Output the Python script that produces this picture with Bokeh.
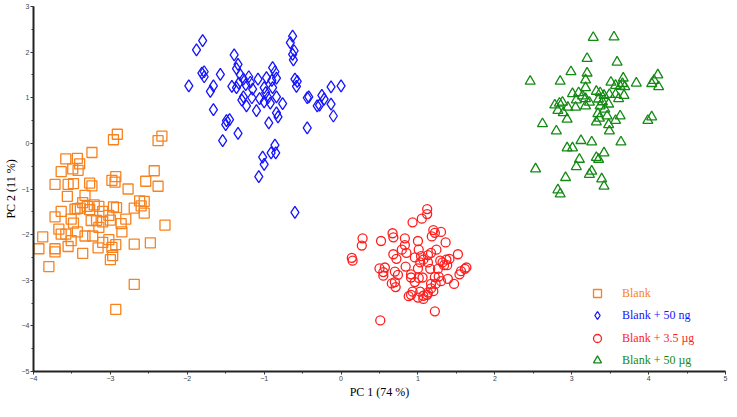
from bokeh.plotting import figure
from bokeh.models import Range1d, SingleIntervalTicker, Legend, LegendItem
from bokeh.embed import file_html
from bokeh.resources import INLINE

# ---- data ----
blank_x = [-2.91, -2.96, -2.33, -2.38, -3.24, -3.58, -3.43, -3.40, -3.49, -3.42,
           -3.64, -2.43, -2.93, -2.98, -2.94, -3.72, -3.55, -3.48, -3.27, -3.24,
           -2.54, -2.38, -2.77, -3.56, -3.33, -3.36, -3.43, -3.46, -3.39, -3.30,
           -3.21, -3.15, -3.27, -3.10, -2.96, -2.92, -2.62, -2.56, -2.60, -2.69,
           -2.56, -3.64, -3.72, -3.51, -3.48, -3.25, -3.18, -3.10, -3.02, -3.00,
           -2.80, -2.86, -3.15, -3.67, -2.85, -2.29, -3.64, -3.58, -3.43, -3.33,
           -3.23, -3.88, -3.51, -3.55, -3.10, -3.02, -2.93, -2.98, -3.16, -2.69,
           -2.48, -3.93, -3.72, -3.72, -3.36, -2.97, -3.00, -3.80, -2.69, -2.93]
blank_y = [0.20, 0.08, 0.16, 0.06, -0.20, -0.34, -0.33, -0.45, -0.56, -0.59,
           -0.62, -0.60, -0.73, -0.81, -0.85, -0.90, -0.90, -0.88, -0.87, -0.93,
           -0.83, -0.94, -1.00, -1.16, -1.14, -1.30, -1.43, -1.44, -1.42, -1.38,
           -1.35, -1.38, -1.45, -1.49, -1.39, -1.41, -1.26, -1.27, -1.37, -1.42,
           -1.53, -1.49, -1.61, -1.66, -1.75, -1.69, -1.69, -1.72, -1.58, -1.68,
           -1.66, -1.76, -1.84, -1.88, -1.94, -1.79, -1.99, -1.99, -1.94, -2.03,
           -2.03, -2.05, -2.13, -2.26, -2.17, -2.11, -2.22, -2.28, -2.29, -2.21,
           -2.18, -2.31, -2.31, -2.38, -2.41, -2.46, -2.55, -2.70, -3.09, -3.64]

ng50_x = [-0.63, -0.66, -1.80, -1.88, -0.61, -0.63, -0.62, -1.39, -1.34, -1.36,
          -1.81, -1.78, -1.78, -1.57, -1.98, -1.66, -1.70, -0.89, -0.86, -1.31,
          -1.20, -1.27, -1.33, -1.42, -1.36, -1.24, -1.18, -1.08, -0.97, -0.84,
          -0.90, -0.60, -0.57, -0.58, -0.13, 0.00, -1.15, -1.00, -0.89, -1.27,
          -1.29, -1.16, -1.23, -1.10, -1.06, -0.98, -1.00, -0.95, -0.92, -0.84,
          -0.76, -0.44, -0.42, -0.25, -0.22, -0.28, -0.31, -0.13, -0.10, -0.84,
          -0.82, -0.94, -1.66, -1.49, -1.45, -1.50, -1.34, -1.54, -0.44, -0.86,
          -0.85, -0.91, -1.02, -1.00, -1.07, -0.60]
ng50_y = [2.35, 2.21, 2.25, 2.05, 2.03, 1.95, 1.83, 1.94, 1.73, 1.64,
          1.54, 1.57, 1.46, 1.51, 1.26, 1.26, 1.14, 1.66, 1.57, 1.50,
          1.46, 1.41, 1.32, 1.25, 1.22, 1.29, 1.34, 1.41, 1.44, 1.43,
          1.38, 1.41, 1.36, 1.25, 1.24, 1.26, 1.19, 1.22, 1.22, 1.02,
          0.95, 1.00, 0.82, 0.72, 0.98, 1.11, 0.91, 1.00, 0.88, 1.02,
          0.87, 1.00, 1.02, 1.05, 0.97, 0.84, 0.82, 0.86, 0.60, 0.67,
          0.58, 0.45, 0.74, 0.50, 0.52, 0.41, 0.22, 0.06, 0.34, -0.04,
          -0.21, -0.21, -0.30, -0.46, -0.73, -1.51]

ug35_x = [1.12, 1.12, 1.05, 0.93, 0.28, 0.27, 0.52, 0.67, 0.68, 0.83,
          0.83, 1.00, 1.20, 1.22, 1.30, 1.18, 1.36, 0.14, 0.15, 0.79,
          0.85, 0.68, 0.72, 1.01, 0.96, 1.04, 1.07, 1.13, 1.17, 1.24,
          1.03, 1.13, 1.16, 0.84, 1.00, 1.29, 1.32, 1.37, 1.41, 1.52,
          1.34, 1.38, 1.26, 0.50, 0.57, 0.55, 0.55, 0.70, 0.74, 0.91,
          0.91, 1.01, 1.06, 0.96, 1.22, 1.27, 1.39, 1.47, 1.54, 1.56,
          1.61, 1.63, 0.70, 0.66, 0.71, 1.17, 1.23, 1.30, 1.17, 1.20,
          1.13, 0.93, 1.03, 0.91, 0.88, 1.00, 1.07, 1.12, 1.07, 1.22, 0.51]
ug35_y = [-1.44, -1.55, -1.65, -1.73, -2.08, -2.24, -2.14, -1.97, -2.06, -2.08,
          -2.23, -2.14, -1.90, -1.96, -1.94, -2.04, -2.17, -2.51, -2.57, -2.33,
          -2.40, -2.43, -2.53, -2.33, -2.50, -2.47, -2.55, -2.45, -2.40, -2.33,
          -2.61, -2.61, -2.75, -2.70, -2.74, -2.57, -2.61, -2.55, -2.53, -2.43,
          -2.67, -2.67, -2.75, -2.74, -2.72, -2.82, -2.90, -2.81, -2.88, -2.87,
          -2.94, -2.95, -2.94, -3.04, -2.93, -2.92, -2.97, -3.08, -2.87, -2.80,
          -2.75, -2.72, -3.04, -3.07, -3.15, -3.08, -3.08, -3.02, -3.18, -3.24,
          -3.27, -3.25, -3.25, -3.32, -3.35, -3.38, -3.34, -3.32, -3.41, -3.68, -3.88]

ug50_x = [3.28, 3.55, 3.20, 3.59, 2.99, 2.46, 2.85, 3.20, 3.18, 3.18,
          4.12, 4.07, 4.04, 4.13, 3.84, 3.51, 3.57, 3.67, 3.66, 3.63,
          3.69, 3.01, 3.09, 3.14, 3.06, 3.18, 3.23, 3.18, 3.32, 3.37,
          3.42, 3.49, 3.57, 3.61, 3.68, 3.35, 3.40, 3.48, 3.37, 3.43,
          2.78, 2.84, 2.88, 2.82, 2.89, 2.95, 2.94, 3.05, 3.34, 3.32,
          3.36, 3.46, 3.48, 3.49, 3.57, 3.63, 3.99, 4.04, 2.62, 2.80,
          3.12, 3.26, 3.64, 2.94, 3.01, 3.42, 3.32, 3.35, 3.10, 3.06,
          2.53, 3.26, 3.23, 2.92, 3.39, 3.42, 2.82, 2.85]
ug50_y = [2.32, 2.33, 1.86, 1.78, 1.57, 1.36, 1.36, 1.54, 1.39, 1.22,
          1.50, 1.38, 1.31, 1.24, 1.32, 1.34, 1.27, 1.43, 1.31, 1.25,
          1.24, 1.09, 1.11, 1.04, 0.95, 0.98, 0.90, 0.82, 1.14, 1.11,
          1.05, 1.07, 1.07, 0.98, 1.05, 0.97, 0.91, 0.86, 0.82, 0.75,
          0.84, 0.88, 0.90, 0.72, 0.67, 0.79, 0.53, 0.79, 0.65, 0.47,
          0.55, 0.60, 0.41, 0.27, 0.50, 0.60, 0.50, 0.58, 0.43, 0.27,
          0.06, 0.03, 0.03, -0.10, -0.10, -0.21, -0.31, -0.35, -0.35, -0.51,
          -0.56, -0.61, -0.68, -0.75, -0.78, -0.94, -1.02, -1.11]

series_labels = ["Blank", "Blank + 50 ng", "Blank + 3.5 \u00b5g", "Blank + 50 \u00b5g"]
x_title = "PC 1 (74 %)"
y_title = "PC 2 (11 %)"
x_limits = (-4, 5)
y_limits = (-5, 3)

# ---- styles ----
ORANGE = "#F7821E"
BLUE = "#1414FF"
RED = "#FF1E1E"
GREEN = "#138A13"
SERIF = "Liberation Serif"

p = figure(width=729, height=401, output_backend="svg", toolbar_location=None,
           x_range=Range1d(*x_limits), y_range=Range1d(*y_limits),
           min_border_left=0, min_border_right=4, min_border_top=6, min_border_bottom=0)
p.grid.visible = False
p.outline_line_color = None
p.background_fill_color = "white"
p.border_fill_color = "white"

r1 = p.scatter(blank_x, blank_y, marker="square", size=10, fill_color=None,
               line_color=ORANGE, line_width=1.3)
r2 = p.scatter(ng50_x, ng50_y, marker="diamond", size=12, fill_color=None,
               line_color=BLUE, line_width=1.3)
r3 = p.scatter(ug35_x, ug35_y, marker="circle", size=9, fill_color=None,
               line_color=RED, line_width=1.3)
r4 = p.scatter(ug50_x, ug50_y, marker="triangle", size=10, fill_color=None,
               line_color=GREEN, line_width=1.3)

for ax, title in ((p.xaxis[0], x_title), (p.yaxis[0], y_title)):
    ax.ticker = SingleIntervalTicker(interval=1, num_minor_ticks=2)
    ax.axis_label = title
    ax.axis_label_text_font = SERIF
    ax.axis_label_text_font_size = "12px"
    ax.axis_label_text_font_style = "normal"
    ax.axis_label_text_color = "black"
    ax.axis_label_standoff = 1
    ax.major_label_text_font = "Liberation Sans"
    ax.major_label_text_font_size = "7px"
    ax.major_label_text_color = "#444444"
    ax.major_label_standoff = 1
    ax.axis_line_color = "#222222"
    ax.axis_line_width = 2
    ax.major_tick_line_color = "#333333"
    ax.minor_tick_line_color = "#333333"
    ax.major_tick_out = 3
    ax.major_tick_in = 0
    ax.minor_tick_out = 2
    ax.minor_tick_in = 0

colors = [ORANGE, BLUE, RED, GREEN]
renderers = [r1, r2, r3, r4]
legend_y = [68, 46, 23, 1]
for lab, col, r, ly in zip(series_labels, colors, renderers, legend_y):
    lg = Legend(items=[LegendItem(label=lab, renderers=[r])], location=(554, ly),
                border_line_color=None, background_fill_alpha=0,
                label_text_color=col, label_text_font=SERIF,
                label_text_font_size="12px", glyph_width=20, glyph_height=20,
                label_standoff=15, padding=0, margin=0, spacing=0)
    p.add_layout(lg)

open("out.html", "w").write(file_html(p, INLINE))
